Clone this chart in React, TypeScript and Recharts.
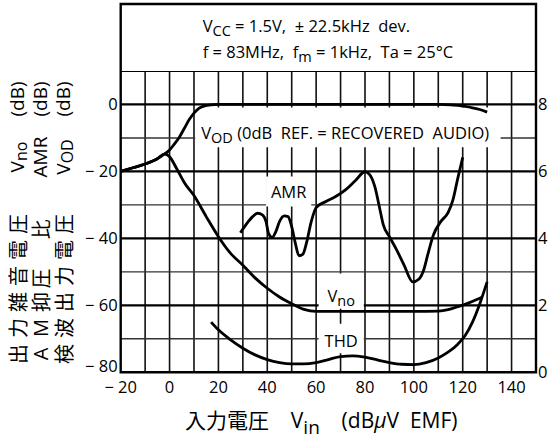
import React from "react";
import { LineChart, Line, XAxis, YAxis, ReferenceLine, ReferenceArea } from "recharts";

const FONT = '"Open Sans", "Noto Sans CJK JP", sans-serif';
const CJK = '"Noto Sans CJK JP", sans-serif';

// axes
const vinTicks = [-20, 0, 20, 40, 60, 80, 100, 120, 140];
const dbTicks = [-80, -60, -40, -20, 0];
const rightTicks = [0, 2, 4, 6, 8];
const gridVin = [-10, 0, 10, 20, 30, 40, 50, 60, 70, 80, 90, 100, 110, 120, 130, 140];
const gridDb = [-70, -60, -50, -40, -30, -20, -10, 0, 10];

// V_OD (dB)
const vodVin = [-20, -15, -10, -5, -2, 0, 2, 4, 6, 8, 10, 12, 14, 17, 20, 40, 60, 80, 100, 110, 115, 118, 121, 124, 127, 130];
const vodDb = [-20, -18.9, -17.8, -16.2, -14.8, -13.6, -11.8, -9.8, -7.2, -4.6, -2.6, -1.2, -0.5, -0.1, 0, 0, 0, 0, 0, 0, -0.1, -0.3, -0.6, -1.0, -1.5, -2.3];

// V_no (dB)
const vnoVin = [-20, -15, -10, -5, -2, 0, 3, 6, 10, 15, 20, 25, 30, 35, 40, 45, 50, 55, 60, 80, 100, 110, 114, 118, 122, 126, 128];
const vnoDb = [-20, -18.9, -17.8, -16.2, -14.8, -15.6, -19.3, -23.3, -27.2, -33.5, -39.5, -44.5, -48, -51.8, -54.9, -57.5, -59.5, -61.2, -61.8, -61.8, -61.8, -61.7, -61.3, -60.4, -59.4, -58.2, -57.5];

// AMR (dB)
const amrVin = [29, 32, 34, 36, 38, 39.5, 40.5, 42, 43.5, 45, 47, 48.5, 50, 51.5, 53, 54.5, 56, 58, 60, 64, 68, 72, 76, 80, 82, 84, 86, 87.5, 90, 93, 96, 99.5, 102, 104, 106, 108, 111, 114, 116, 118, 120];
const amrDb = [-38.3, -35.2, -33.5, -32.5, -33, -35, -38.5, -39.7, -38, -35, -33.3, -33.5, -36.5, -41.5, -45.2, -44.8, -41.5, -35, -30.8, -29, -27.5, -25.5, -22.8, -20.1, -21, -24.5, -31, -36, -39.5, -43.5, -48, -53, -52.2, -49.5, -44, -39, -35, -32.3, -28.5, -22, -15.8];

// THD (%)
const thdVin = [17, 20, 25, 30, 35, 40, 45, 50, 55, 60, 65, 70, 75, 80, 85, 90, 95, 100, 105, 110, 114, 118, 121, 124, 127, 130];
const thdPct = [1.5, 1.27, 0.97, 0.72, 0.52, 0.38, 0.29, 0.25, 0.25, 0.29, 0.38, 0.47, 0.49, 0.45, 0.37, 0.29, 0.24, 0.23, 0.29, 0.43, 0.6, 0.84, 1.1, 1.5, 2.05, 2.7];

const vod = vodVin.map((vin, i) => ({ vin, db: vodDb[i] }));
const vno = vnoVin.map((vin, i) => ({ vin, db: vnoDb[i] }));
const amr = amrVin.map((vin, i) => ({ vin, db: amrDb[i] }));
const thd = thdVin.map((vin, i) => ({ vin, pct: thdPct[i] }));

const fmt = (v: number) => (v < 0 ? `\u2212 ${-v}` : `${v}`);

const XTick = ({ x, y, payload }: any) => (
  <text x={x} y={y} dy={13} textAnchor="middle" fontSize={16.5} fontFamily={FONT} fill="#000" xmlSpace="preserve">
    {fmt(payload.value)}
  </text>
);

const LeftTick = ({ x, y, payload }: any) => (
  <text x={x} y={payload.value === -80 ? y - 6 : y} dy={6} textAnchor="end" fontSize={16.5} fontFamily={FONT} fill="#000" xmlSpace="preserve">
    {fmt(payload.value)}
  </text>
);

const RightTick = ({ x, y, payload }: any) => (
  <text x={x} y={y} dy={6} textAnchor="start" fontSize={16.5} fontFamily={FONT} fill="#000">
    {payload.value}
  </text>
);

const headerText = ({ viewBox }: any) => {
  const x = viewBox.x + 82;
  return (
    <g fontFamily={FONT} fontSize={16.5} fill="#000">
      <text x={x} y={viewBox.y + 28} xmlSpace="preserve">
        V<tspan fontSize={14.5} dy={4}>CC</tspan>
        <tspan dy={-4}>{" = 1.5V,  \u00b1 22.5kHz  dev."}</tspan>
      </text>
      <text x={x} y={viewBox.y + 54} xmlSpace="preserve">
        {"f = 83MHz,  f"}
        <tspan fontSize={14.5} dy={4}>m</tspan>
        <tspan dy={-4}>{" = 1kHz,  Ta = 25\u00b0C"}</tspan>
      </text>
    </g>
  );
};

const vodText = ({ viewBox }: any) => (
  <text x={viewBox.x + 6} y={viewBox.y + 32} fontFamily={FONT} fontSize={16.5} fill="#000" xmlSpace="preserve">
    V<tspan fontSize={14.5} dy={4}>OD</tspan>
    <tspan dy={-4}>{" (0dB  REF. = RECOVERED  AUDIO)"}</tspan>
  </text>
);

const plainText = (s: string, base: number) => ({ viewBox }: any) => (
  <text x={viewBox.x + viewBox.width / 2} y={viewBox.y + base} textAnchor="middle" fontFamily={FONT} fontSize={16.5} fill="#000">
    {s}
  </text>
);

const vnoText = ({ viewBox }: any) => (
  <text x={viewBox.x + viewBox.width / 2} y={viewBox.y + 28} textAnchor="middle" fontFamily={FONT} fontSize={16.5} fill="#000">
    V<tspan fontSize={14.5} dy={4}>no</tspan>
  </text>
);

// rotated y-axis titles
const colX = [17, 40, 63];
const colChars = [
  ["出", "力", "雑", "音", "電", "圧"],
  ["A", "M", "抑", "圧", "比"],
  ["検", "波", "出", "力", "電", "圧"],
];
const colSlots = [
  [0, 1, 2, 3, 4, 5],
  [0, 1, 2, 2.9, 4.8],
  [0, 1, 2, 3, 4, 5],
];
const colNames = ["no", "AMR", "OD"];

const Rot = ({ x, y, size, family, children }: any) => (
  <text
    transform={`translate(${x},${y}) rotate(-90)`}
    textAnchor="middle"
    dominantBaseline="central"
    fontSize={size}
    fontFamily={family}
    fill="#000"
  >
    {children}
  </text>
);

const Titles = () => (
  <svg width={548} height={439} style={{ position: "absolute", left: 0, top: 0, pointerEvents: "none" }}>
    {colX.map((x, c) => (
      <g key={c}>
        <Rot x={x} y={99} size={19} family={FONT}>(dB)</Rot>
        <Rot x={x} y={157} size={19} family={FONT}>
          {c === 1 ? (
            "AMR"
          ) : (
            <>
              V<tspan fontSize={16} dy={4}>{colNames[c]}</tspan>
            </>
          )}
        </Rot>
        {colChars[c].map((ch, i) => (
          <Rot key={i} x={x} y={354 - colSlots[c][i] * 26} size={20} family={ch === "A" || ch === "M" ? FONT : CJK}>
            {ch}
          </Rot>
        ))}
      </g>
    ))}
    <text x={185} y={428} fontSize={21} fill="#000" xmlSpace="preserve">
      <tspan fontFamily={CJK}>入力電圧</tspan>
      <tspan fontFamily={FONT}>{"    V"}</tspan>
      <tspan fontFamily={FONT} fontSize={19} dy={6}>in</tspan>
      <tspan fontFamily={FONT} dy={-6}>{"    (dB"}</tspan>
      <tspan fontFamily={FONT} fontStyle="italic">μ</tspan>
      <tspan fontFamily={FONT}>{"V  EMF)"}</tspan>
    </text>
  </svg>
);

export default function App() {
  return (
    <div style={{ position: "absolute", left: 0, top: 0, width: 548, height: 439, background: "#fff" }}>
      <LineChart width={548} height={439} data={vod} margin={{ top: 4, right: 0, bottom: 36.7, left: 0 }}>
        <XAxis
          dataKey="vin"
          type="number"
          domain={[-20, 150]}
          ticks={vinTicks}
          tickLine={false}
          axisLine={false}
          height={30}
          tick={<XTick />}
          allowDataOverflow
        />
        <YAxis
          yAxisId="left"
          type="number"
          domain={[-80, 30]}
          ticks={dbTicks}
          tickLine={false}
          axisLine={false}
          width={120.7}
          tickSize={0}
          tickMargin={3}
          tick={<LeftTick />}
          allowDataOverflow
        />
        <YAxis
          yAxisId="right"
          orientation="right"
          type="number"
          domain={[0, 11]}
          ticks={rightTicks}
          tickLine={false}
          axisLine={false}
          width={12}
          tickSize={0}
          tickMargin={2}
          tick={<RightTick />}
          allowDataOverflow
        />

        {gridVin.map((x) => (
          <ReferenceLine
            key={`v${x}`}
            yAxisId="left"
            segment={[{ x, y: -80 }, { x, y: 10 }]}
            stroke="#111"
            strokeWidth={1.6}
            zIndex={10}
          />
        ))}
        {gridDb.map((y) => (
          <ReferenceLine
            key={`h${y}`}
            yAxisId="left"
            y={y}
            stroke={y % 20 === 0 || y === 10 ? "#000" : "#333"}
            strokeWidth={y % 20 === 0 || y === 10 ? 2.2 : 1.4}
            zIndex={10}
          />
        ))}

        <ReferenceArea yAxisId="left" x1={-20} x2={150} y1={10} y2={30} fill="#fff" fillOpacity={1} stroke="none" label={headerText} zIndex={20} />
        <ReferenceArea yAxisId="left" x1={10.5} x2={135.5} y1={-12.8} y2={-0.9} fill="#fff" fillOpacity={1} stroke="none" label={vodText} zIndex={20} />
        <ReferenceArea yAxisId="left" x1={39.5} x2={58} y1={-30.5} y2={-21.5} fill="#fff" fillOpacity={1} stroke="none" label={plainText("AMR", 22)} zIndex={20} />
        <ReferenceArea yAxisId="left" x1={61} x2={79.5} y1={-61} y2={-50.5} fill="#fff" fillOpacity={1} stroke="none" label={vnoText} zIndex={20} />
        <ReferenceArea yAxisId="left" x1={61} x2={79.5} y1={-74.3} y2={-65.5} fill="#fff" fillOpacity={1} stroke="none" label={plainText("THD", 23)} zIndex={20} />
        <ReferenceArea yAxisId="left" x1={-20} x2={150} y1={-80} y2={30} fill="none" fillOpacity={0} stroke="#000" strokeWidth={2.4} zIndex={30} />

        <Line data={vod} yAxisId="left" dataKey="db" type="monotone" stroke="#000" strokeWidth={2.8} dot={false} isAnimationActive={false} />
        <Line data={vno} yAxisId="left" dataKey="db" type="monotone" stroke="#000" strokeWidth={2.8} dot={false} isAnimationActive={false} />
        <Line data={amr} yAxisId="left" dataKey="db" type="monotone" stroke="#000" strokeWidth={2.8} dot={false} isAnimationActive={false} />
        <Line data={thd} yAxisId="right" dataKey="pct" type="monotone" stroke="#000" strokeWidth={2.8} dot={false} isAnimationActive={false} />
      </LineChart>
      <Titles />
    </div>
  );
}
